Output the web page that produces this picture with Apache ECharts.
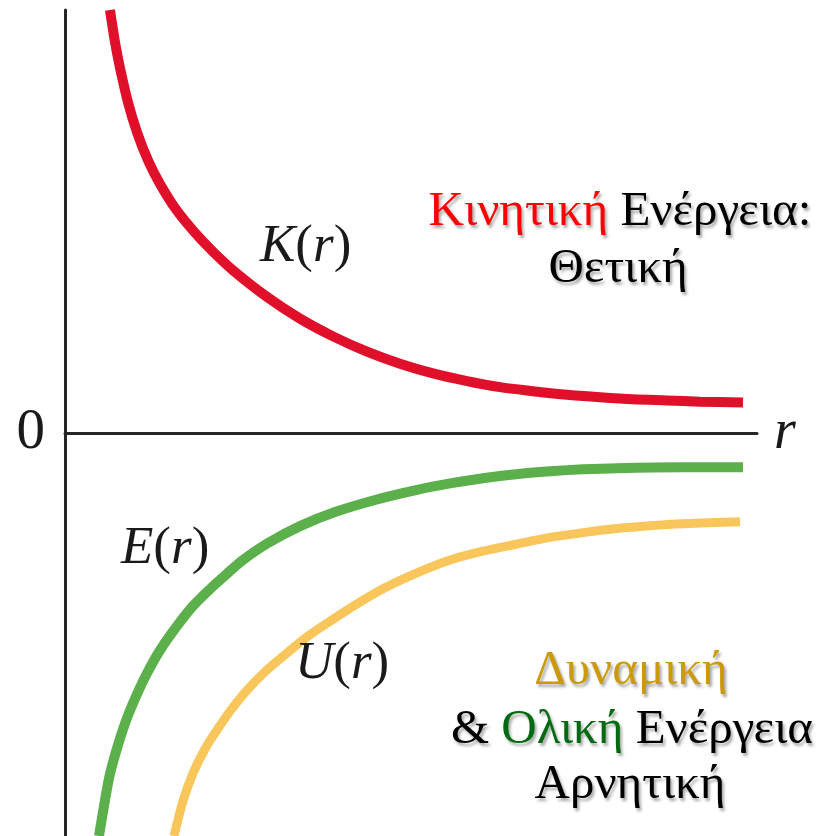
<!DOCTYPE html>
<html>
<head>
<meta charset="utf-8">
<script src="https://cdn.jsdelivr.net/npm/echarts@6/dist/echarts.min.js"></script>
<style>
  html, body { margin: 0; padding: 0; background: #ffffff; }
  #chart { width: 830px; height: 836px; }
</style>
</head>
<body>
<div id="chart"></div>
<script>
// Separation r (arbitrary units) and energy (arbitrary units, 0 = axis)
var kineticR = [6.50, 7.23, 7.95, 9.10, 10.40, 11.99, 13.73, 16.04, 18.79, 21.39, 24.28, 29.19, 33.96, 38.73, 43.64, 48.41, 53.18, 58.09, 62.86, 67.63, 72.54, 77.31, 82.08, 86.99, 91.76, 97.98];
var kineticE = [105.0, 97.0, 90.6, 82.1, 74.7, 67.7, 61.8, 55.5, 49.7, 45.0, 40.4, 33.8, 28.4, 24.0, 20.2, 17.2, 14.8, 12.9, 11.4, 10.4, 9.5, 8.9, 8.4, 8.1, 7.8, 7.6];

var totalR = [4.91, 5.78, 6.50, 7.66, 8.96, 10.40, 11.85, 13.73, 16.18, 18.50, 20.95, 23.41, 25.72, 29.34, 33.96, 39.02, 44.80, 50.87, 55.64, 60.40, 65.17, 70.09, 74.86, 79.77, 89.31, 97.98];
var totalE = [-100.0, -91.1, -84.6, -77.4, -70.7, -64.8, -59.6, -53.9, -47.9, -42.9, -38.7, -34.9, -31.5, -27.3, -23.1, -19.6, -16.6, -14.1, -12.5, -11.2, -10.2, -9.5, -9.0, -8.7, -8.5, -8.5];

var potentialR = [15.75, 17.05, 18.50, 20.23, 21.97, 23.99, 26.30, 29.05, 32.08, 34.97, 37.86, 41.91, 46.24, 50.87, 55.64, 60.40, 65.17, 70.09, 74.86, 79.77, 84.54, 89.31, 97.54];
var potentialE = [-100.0, -91.3, -84.4, -78.4, -73.7, -68.7, -63.8, -59.0, -54.6, -50.6, -47.2, -42.7, -38.4, -34.7, -31.5, -29.3, -27.6, -25.9, -24.7, -23.7, -23.0, -22.5, -22.0];

function pairs(xs, ys) {
  return xs.map(function (x, i) { return [x, ys[i]]; });
}

var mathFont = '"Liberation Serif", serif';
var greekFont = '"Liberation Serif", serif';

var chart = echarts.init(document.getElementById('chart'));

function fnLabel(letter, x, y) {
  return {
    type: 'text',
    left: x,
    top: y,
    style: {
      text: '{i|' + letter + '}{u|(}{i|r}{u|)}',
      rich: {
        i: { fontFamily: mathFont, fontStyle: 'italic', fontSize: 53, fill: '#1a1a1a' },
        u: { fontFamily: mathFont, fontSize: 53, fill: '#1a1a1a' }
      }
    },
    z: 10
  };
}

var shadow = { textShadowColor: 'rgba(0,0,0,0.35)', textShadowBlur: 3, textShadowOffsetX: 2, textShadowOffsetY: 3 };

function greekLine(text, cx, cy, rich) {
  var r = {};
  Object.keys(rich).forEach(function (k) {
    r[k] = Object.assign({ fontFamily: greekFont, fontSize: 49 }, shadow, rich[k]);
  });
  return {
    type: 'text',
    x: cx,
    y: cy,
    style: {
      text: text,
      textAlign: 'center',
      textVerticalAlign: 'middle',
      rich: r
    },
    z: 10
  };
}

function curve(name, xs, ys, color, width) {
  return {
    name: name,
    type: 'line',
    smooth: 0.3,
    showSymbol: false,
    data: pairs(xs, ys),
    lineStyle: { color: color, width: width, cap: 'butt' }
  };
}

var option = {
  backgroundColor: '#ffffff',
  animation: false,
  grid: { left: 65, right: 73, top: 10, bottom: 0, containLabel: false },
  xAxis: {
    type: 'value',
    min: 0,
    max: 100,
    name: 'r',
    nameLocation: 'end',
    nameGap: 17,
    nameTextStyle: { fontFamily: mathFont, fontStyle: 'italic', fontSize: 56, color: '#1a1a1a', verticalAlign: 'middle', padding: [14, 0, 0, 0] },
    axisLine: { onZero: true, lineStyle: { color: '#262626', width: 3 } },
    axisTick: { show: false },
    axisLabel: { show: false },
    splitLine: { show: false }
  },
  yAxis: {
    type: 'value',
    min: -100,
    max: 105,
    interval: 100,
    axisLine: { show: true, onZero: false, lineStyle: { color: '#262626', width: 3 } },
    axisTick: { show: false },
    axisLabel: {
      show: true,
      margin: 20,
      fontFamily: mathFont,
      fontSize: 57,
      color: '#1a1a1a',
      formatter: function (v) { return v === 0 ? '0' : ''; },
      padding: [22, 0, 0, 0]
    },
    splitLine: { show: false }
  },
  series: [
    curve('K(r)', kineticR, kineticE, '#e0102b', 10),
    curve('E(r)', totalR, totalE, '#5cb04c', 10),
    curve('U(r)', potentialR, potentialE, '#f9c65c', 9)
  ],
  graphic: [
    fnLabel('K', 260, 221),
    fnLabel('E', 121, 523),
    fnLabel('U', 295, 638),
    greekLine('{r|Κινητική }{k|Ενέργεια:}', 620, 212, { r: { fill: '#ff0000' }, k: { fill: '#000000' } }),
    greekLine('{k|Θετική}', 618, 269, { k: { fill: '#000000' } }),
    greekLine('{d|Δυναμική}', 631, 671, { d: { fill: '#cc9a06' } }),
    greekLine('{k|& }{o|Ολική }{k|Ενέργεια}', 632, 730, { k: { fill: '#000000' }, o: { fill: '#006a10' } }),
    greekLine('{k|Αρνητική}', 630, 785, { k: { fill: '#000000' } })
  ]
};

chart.setOption(option);
</script>
</body>
</html>
